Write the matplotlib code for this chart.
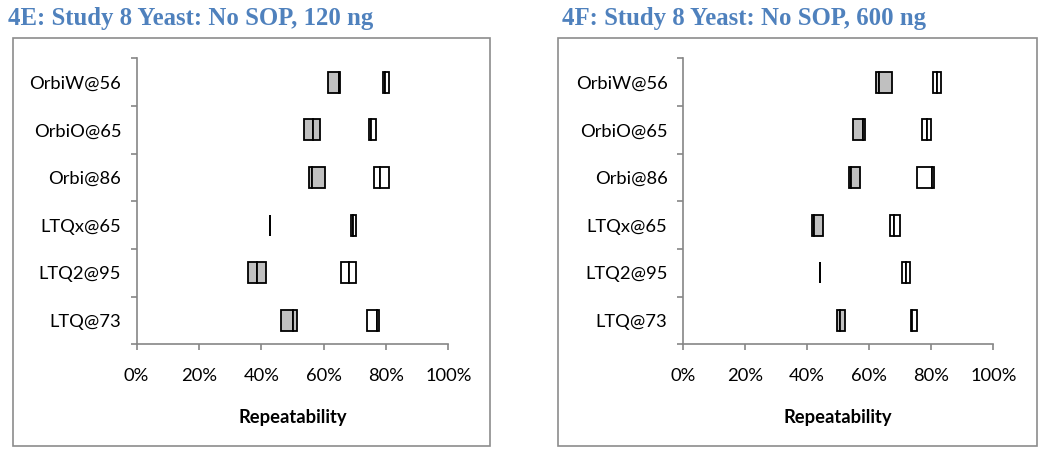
import matplotlib
matplotlib.use("Agg")
import matplotlib.pyplot as plt
from matplotlib.patches import Rectangle
import numpy as np

plt.rcParams['font.family'] = ['Lato', 'DejaVu Sans']

# Categories listed top to bottom
categories = ["OrbiW@56", "OrbiO@65", "Orbi@86", "LTQx@65", "LTQ2@95", "LTQ@73"]

titles = ["4E: Study 8 Yeast: No SOP, 120 ng", "4F: Study 8 Yeast: No SOP, 600 ng"]
xlabel = "Repeatability"
xticks = [0, 0.2, 0.4, 0.6, 0.8, 1.0]
xticklabels = ["0%", "20%", "40%", "60%", "80%", "100%"]

# Panel 4E (120 ng): low / median / high, gray and white series
e_gray_low  = [0.615, 0.538, 0.552, 0.427, 0.356, 0.465]
e_gray_mid  = [0.650, 0.565, 0.564, 0.427, 0.385, 0.502]
e_gray_high = [0.653, 0.590, 0.603, 0.427, 0.416, 0.516]
e_white_low  = [0.792, 0.747, 0.762, 0.688, 0.656, 0.740]
e_white_mid  = [0.796, 0.751, 0.781, 0.693, 0.683, 0.772]
e_white_high = [0.809, 0.768, 0.809, 0.705, 0.704, 0.777]

# Panel 4F (600 ng)
f_gray_low  = [0.621, 0.547, 0.534, 0.415, 0.441, 0.496]
f_gray_mid  = [0.632, 0.582, 0.542, 0.423, 0.441, 0.508]
f_gray_high = [0.673, 0.586, 0.572, 0.453, 0.441, 0.523]
f_white_low  = [0.807, 0.771, 0.753, 0.667, 0.707, 0.734]
f_white_mid  = [0.818, 0.786, 0.802, 0.681, 0.718, 0.739]
f_white_high = [0.832, 0.800, 0.810, 0.700, 0.732, 0.755]

panels = [
    (e_gray_low, e_gray_mid, e_gray_high, e_white_low, e_white_mid, e_white_high),
    (f_gray_low, f_gray_mid, f_gray_high, f_white_low, f_white_mid, f_white_high),
]

W, H = 1050, 454
fig = plt.figure(figsize=(W / 100, H / 100), dpi=100)

axis_gray = "#868686"
frame_gray = "#8c8c8c"
title_color = "#4F81BD"
gray_fill = "#C0C0C0"

ax_boxes = [(136.5, 448.3), (682.7, 993.3)]
frame_boxes = [(13, 490), (558, 1037)]
title_x = [8, 562]
y_top, y_bot = 58.3, 344.3

n = len(categories)
ypos = np.arange(n)[::-1] + 0.5  # top category at top
bar_h = 0.44

for i, (ax_x, fr_x, data) in enumerate(zip(ax_boxes, frame_boxes, panels)):
    # outer frame
    fig.patches.append(Rectangle((fr_x[0] / W, 1 - 446 / H), (fr_x[1] - fr_x[0]) / W,
                                 (446 - 38) / H, transform=fig.transFigure,
                                 fill=False, edgecolor=frame_gray, linewidth=1.2))
    fig.text(title_x[i] / W, 1 - 19 / H, titles[i], color=title_color,
             fontsize=17.8, fontweight='bold', family=['Liberation Serif'],
             ha='left', va='center')

    ax = fig.add_axes([ax_x[0] / W, 1 - y_bot / H, (ax_x[1] - ax_x[0]) / W,
                       (y_bot - y_top) / H])
    gl, gm, gh, wl, wm, wh = [np.array(d) for d in data]
    for low, mid, high, fc in ((gl, gm, gh, gray_fill), (wl, wm, wh, "white")):
        ax.barh(ypos, mid - low, left=low, height=bar_h, color=fc,
                edgecolor="black", linewidth=1.3)
        ax.barh(ypos, high - mid, left=mid, height=bar_h, color=fc,
                edgecolor="black", linewidth=1.3)

    ax.set_xlim(0, 1)
    ax.set_ylim(0, n)
    for s in ("top", "right"):
        ax.spines[s].set_visible(False)
    for s in ("left", "bottom"):
        ax.spines[s].set_color(axis_gray)
        ax.spines[s].set_linewidth(1.2)

    ax.set_xticks(xticks)
    ax.set_xticklabels(xticklabels, fontsize=13.2)
    ax.tick_params(axis='x', length=4, width=1.2, color=axis_gray, pad=13)

    ax.set_yticks(np.arange(n + 1))
    ax.set_yticklabels([])
    ax.tick_params(axis='y', which='major', length=4, width=1.2, color=axis_gray)
    ax.set_yticks(ypos, minor=True)
    ax.set_yticklabels(categories, minor=True, fontsize=13.2)
    ax.tick_params(axis='y', which='minor', length=0, pad=11)

    ax.set_xlabel(xlabel, fontsize=13.2, fontweight='bold', labelpad=18)

fig.savefig("out.png", dpi=100)
